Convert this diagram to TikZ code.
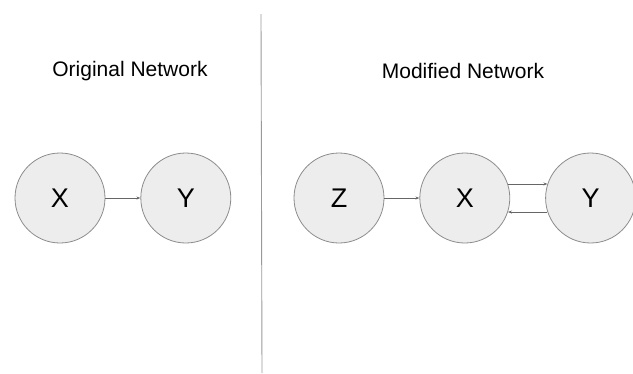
\documentclass[tikz,border=0pt]{standalone}
\usepackage{fontspec}
\setmainfont{Liberation Sans}
\usetikzlibrary{arrows.meta,positioning}

\begin{document}
\begin{tikzpicture}[
    x=1pt, y=-1pt,
    node distance=35pt,
    var/.style={circle, draw=black!45, fill=black!7, line width=0.8pt, minimum size=90pt, inner sep=0pt, font=\fontsize{27}{27}\selectfont},
    title/.style={font=\fontsize{21}{21}\selectfont},
    arr/.style={-{Stealth[length=4pt, width=3pt]}, draw=black!60, line width=0.7pt},
  ]
    \useasboundingbox (0,0) rectangle (633,373);

    % original network
    \node[title] (origT) at (130,71) {Original Network};
    \node[var] (ox) at (60,198) {X};
    \node[var, right=of ox] (oy) {Y};

    % separator
    \coordinate (sepT) at (261,14);
    \coordinate (sepB) at (262,373);
    \draw[black!40, line width=0.9pt] (sepT) -- (sepB);

    % modified network
    \node[title] (modT) at (463,71) {Modified Network};
    \node[var] (mz) at (339,198) {Z};
    \node[var, right=of mz] (mx) {X};
    \node[var, right=of mx] (my) {Y};

    \draw[arr] (ox) -- (oy);
    \draw[arr] (mz) -- (mx);
    \draw[arr] (mx.18) -- (my.162);
    \draw[arr] (my.198) -- (mx.-18);
  \end{tikzpicture}
\end{document}
